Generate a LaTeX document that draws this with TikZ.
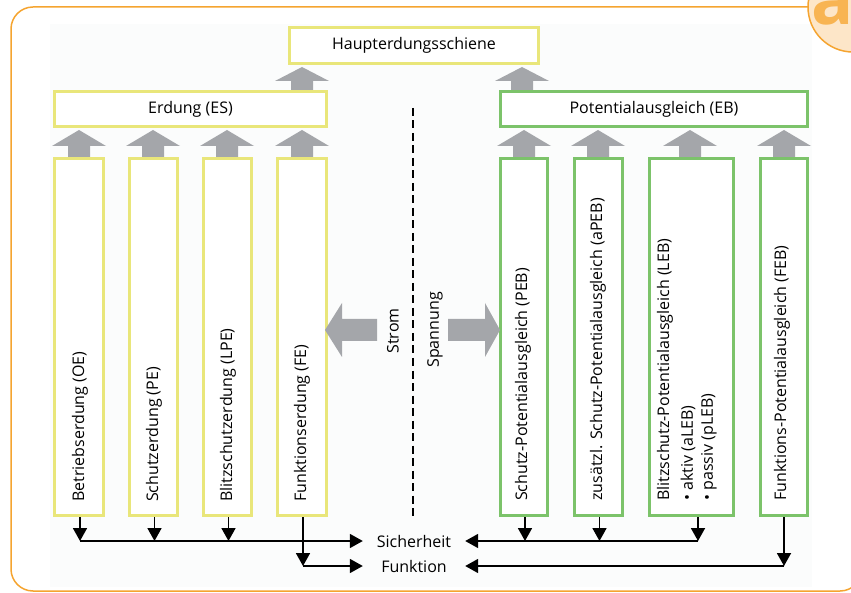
\documentclass[tikz,border=0pt]{standalone}
\usepackage{fontspec}
\setmainfont{Open Sans}
\usetikzlibrary{arrows.meta,calc}
\definecolor{frameor}{HTML}{F5A430}
\definecolor{badgefill}{HTML}{FDE6C8}
\definecolor{badgeletter}{HTML}{F8B452}
\definecolor{ybox}{HTML}{E9E67A}
\definecolor{gbox}{HTML}{7CC36A}
\definecolor{garr}{HTML}{A4A6AA}
\definecolor{bgpanel}{HTML}{FBFCFC}
\newcommand\grayup[4]{% x, tip y, head base y, shaft bottom y
  \fill[garr] ({#1-11},{#4}) -- ({#1-11},{#3}) -- ({#1-27},{#3}) -- ({#1},{#2})
    -- ({#1+27},{#3}) -- ({#1+11},{#3}) -- ({#1+11},{#4}) -- cycle;}
\newcommand\grayside[4]{% y, tip x, head base x, tail x
  \fill[garr] ({#4},{#1-11}) -- ({#3},{#1-11}) -- ({#3},{#1-27}) -- ({#2},{#1})
    -- ({#3},{#1+27}) -- ({#3},{#1+11}) -- ({#4},{#1+11}) -- cycle;}
\begin{document}
\begin{tikzpicture}[x=1pt,y=-1pt,
  lbl/.style={font=\fontsize{16}{19}\selectfont, inner sep=0pt},
  vlbl/.style={lbl, rotate=90, anchor=west},
  ybx/.style={draw=ybox, line width=3pt, fill=white, lbl},
  gbx/.style={draw=gbox, line width=3pt, fill=white, lbl},
  blk/.style={line width=1.8pt, black, -{Triangle[length=13pt,width=14pt]}},
  blkline/.style={line width=1.8pt, black},
]
\useasboundingbox (0,0) rectangle (851,593);
\clip (0,0) rectangle (851,593);
% background panel and frame
\fill[bgpanel] (50,24) rectangle (812,587);
\draw[frameor, line width=1.5pt, rounded corners=22pt] (11,7) rectangle (862,591);
\draw[frameor, line width=1.5pt, fill=badgefill] (853,7) circle (45);
\node[font=\fontsize{70}{70}\selectfont\bfseries, text=badgeletter, anchor=base west, inner sep=0pt] (badge) at (811,25) {a};

% top boxes
\node[ybx, minimum width=249, minimum height=36] (hs) at (414,45.5) {Haupterdungsschiene};
\node[ybx, minimum width=272, minimum height=35] (es) at (190.5,109) {Erdung (ES)};
\node[gbx, minimum width=307, minimum height=35] (eb) at (654,109) {Potentialausgleich (EB)};

% column boxes
\foreach \n/\x/\w/\s in {b1/79/49/ybx, b2/153.5/48/ybx, b3/227.5/48/ybx, b4/302/49/ybx,
                          b5/524/47/gbx, b6/598.5/48/gbx, b7/691.5/84/gbx, b8/784/47/gbx}
  \node[\s, minimum width=\w, minimum height=357] (\n) at (\x,337) {};

% vertical texts
\node[vlbl] (t1) at (80,502) {Betriebserdung (OE)};
\node[vlbl] (t2) at (154,502) {Schutzerdung (PE)};
\node[vlbl] (t3) at (228,502) {Blitzschutzerdung (LPE)};
\node[vlbl] (t4) at (302,502) {Funktionserdung (FE)};
\node[vlbl] (t5) at (523,501) {Schutz-Potentialausgleich (PEB)};
\node[vlbl] (t6) at (598,501) {zusätzl. Schutz-Potentialausgleich (aPEB)};
\node[vlbl] (t7a) at (665,501) {Blitzschutz-Potentialausgleich (LEB)};
\node[vlbl] (t7b) at (688,501) {• aktiv (aLEB)};
\node[vlbl] (t7c) at (709,501) {• passiv (pLEB)};
\node[vlbl] (t8) at (782,501) {Funktions-Potentialausgleich (FEB)};

% gray up arrows
\foreach \x in {79,153,227,302,524,598,690,784}
  \grayup{\x}{130}{146}{157};
\grayup{302}{67}{81}{90}
\grayup{522}{67}{81}{90}

% Strom / Spannung
\grayside{330}{325}{342}{377}
\grayside{330}{500}{485}{448}
\node[lbl, rotate=90] (strom) at (393,331) {Strom};
\node[lbl, rotate=90] (spann) at (435,330) {Spannung};

% dashed divider
\coordinate (dtop) at (413,108);
\coordinate (dbot) at (413,517);
\draw[line width=2.8pt, dash pattern=on 8pt off 4.5pt] (dtop) -- (dbot);

% bottom labels
\node[lbl, minimum width=102] (sich) at (414,541) {Sicherheit};
\node[lbl, minimum width=102] (funk) at (414,566) {Funktion};

% connectors to Sicherheit
\foreach \n in {b1,b2,b3}
  \draw[blk] ([xshift=1pt]\n.south) -- ([xshift=1pt]\n.south |- sich.west);
\draw[blkline] ([xshift=1pt]b1.south |- sich.west) -- ([xshift=-12pt]sich.west);
\draw[blk] ([xshift=-14pt]sich.west) -- (sich.west);
\foreach \n in {b5,b6}
  \draw[blk] ([xshift=1pt]\n.south) -- ([xshift=1pt]\n.south |- sich.east);
\draw[blk] ([xshift=6.5pt]b7.south) -- ([xshift=6.5pt]b7.south |- sich.east);
\draw[blk] ([xshift=6.5pt]b7.south |- sich.east) -- (sich.east);

% connectors to Funktion
\draw[blk] ([xshift=1pt]b4.south) -- ([xshift=1pt]b4.south |- funk.west);
\draw[blk] ([xshift=1pt]b4.south |- funk.west) -- (funk.west);
\draw[blk] (b8.south) -- (b8.south |- funk.east);
\draw[blk] (b8.south |- funk.east) -- (funk.east);
\end{tikzpicture}
\end{document}
